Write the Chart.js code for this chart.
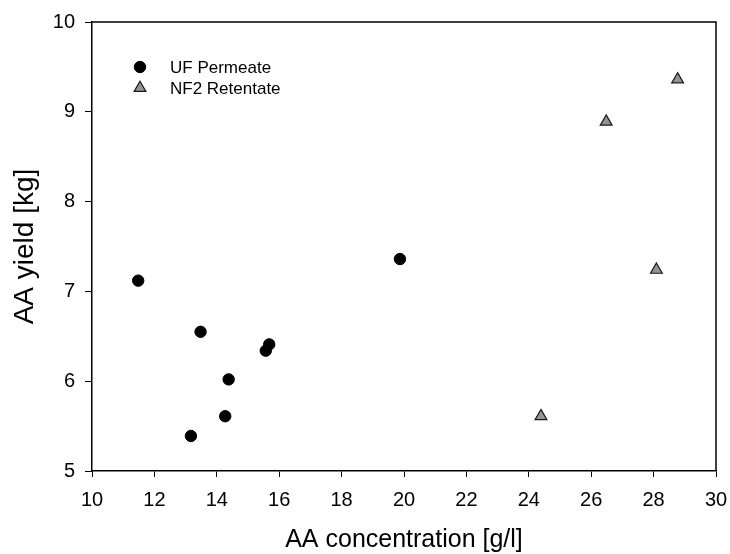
<!DOCTYPE html>
<html>
<head>
<meta charset="utf-8">
<script src="https://cdn.jsdelivr.net/npm/chart.js@4/dist/chart.umd.min.js"></script>
<style>
  html, body { margin: 0; padding: 0; background: #fff; }
  #chart-area { display: block; }
</style>
</head>
<body>
<canvas id="chart-area" width="730" height="554"></canvas>
<script>
// values
var ufConcentration = [11.48, 13.48, 15.68, 15.57, 14.38, 14.27, 13.17, 19.87];
var ufYield = [7.12, 6.55, 6.41, 6.34, 6.02, 5.61, 5.39, 7.36];
var nfConcentration = [28.77, 26.48, 28.09, 24.39];
var nfYield = [9.36, 8.89, 7.24, 5.61];
var seriesNames = ['UF Permeate', 'NF2 Retentate'];
var xTitle = 'AA concentration [g/l]';
var yTitle = 'AA yield [kg]';

var fontFamily = "'Liberation Sans', Arial, sans-serif";

function toPoints(xs, ys) {
	return xs.map(function (x, i) { return { x: x, y: ys[i] }; });
}

// box round the plot + legend inside the top-left corner
var framePlugin = {
	id: 'frame',
	afterDraw: function (chart) {
		var ctx = chart.ctx;
		var a = chart.chartArea;
		ctx.save();
		ctx.strokeStyle = '#000';
		ctx.lineWidth = 1.5;
		ctx.beginPath();
		ctx.moveTo(a.left, a.top);
		ctx.lineTo(a.right, a.top);
		ctx.lineTo(a.right, a.bottom);
		ctx.stroke();

		ctx.font = '17px ' + fontFamily;
		ctx.textBaseline = 'middle';
		chart.data.datasets.forEach(function (ds, i) {
			var mx = a.left + 48;
			var my = a.top + 45 + i * 21;
			ctx.fillStyle = ds.backgroundColor;
			ctx.strokeStyle = ds.borderColor;
			ctx.lineWidth = ds.borderWidth;
			Chart.helpers.drawPoint(ctx, {
				pointStyle: ds.pointStyle,
				radius: ds.pointRadius,
				borderWidth: ds.borderWidth,
				rotation: 0
			}, mx, my);
			ctx.fillStyle = '#000';
			ctx.fillText(ds.label, a.left + 78, my + 1);
		});
		ctx.restore();
	}
};

var config = {
	type: 'scatter',
	data: {
		datasets: [{
			label: seriesNames[0],
			data: toPoints(ufConcentration, ufYield),
			pointStyle: 'circle',
			pointRadius: 5.7,
			backgroundColor: '#000',
			borderColor: '#000',
			borderWidth: 1
		}, {
			label: seriesNames[1],
			data: toPoints(nfConcentration, nfYield),
			pointStyle: 'triangle',
			pointRadius: 6.8,
			backgroundColor: '#939393',
			borderColor: '#1a1a1a',
			borderWidth: 1.2
		}]
	},
	options: {
		responsive: false,
		animation: false,
		layout: { padding: { top: 21, right: 14, left: 0, bottom: 0 } },
		plugins: {
			legend: { display: false },
			tooltip: { enabled: false }
		},
		scales: {
			x: {
				type: 'linear',
				min: 10,
				max: 30,
				afterFit: function (scale) {
					scale.height = 83;
					scale.paddingLeft = 0;
					scale.paddingRight = 0;
				},
				ticks: {
					stepSize: 2,
					padding: 11,
					color: '#000',
					font: { family: fontFamily, size: 20 }
				},
				grid: {
					drawOnChartArea: false,
					drawTicks: true,
					tickLength: 6,
					color: '#000'
				},
				border: { color: '#000', width: 1.5 },
				title: {
					display: true,
					text: xTitle,
					color: '#000',
					font: { family: fontFamily, size: 25, lineHeight: 1.12 },
					padding: { top: 0, bottom: 0 }
				}
			},
			y: {
				type: 'linear',
				min: 5,
				max: 10,
				afterFit: function (scale) { scale.width = 92; },
				ticks: {
					stepSize: 1,
					padding: 10,
					color: '#000',
					font: { family: fontFamily, size: 20 }
				},
				grid: {
					drawOnChartArea: false,
					drawTicks: true,
					tickLength: 7,
					color: '#000'
				},
				border: { color: '#000', width: 1.5 },
				title: {
					display: true,
					text: yTitle,
					color: '#000',
					font: { family: fontFamily, size: 28 },
					padding: { top: 8, bottom: 0 }
				}
			}
		}
	},
	plugins: [framePlugin]
};

var context = document.getElementById('chart-area').getContext('2d');
window.myScatter = new Chart(context, config);
</script>
</body>
</html>
